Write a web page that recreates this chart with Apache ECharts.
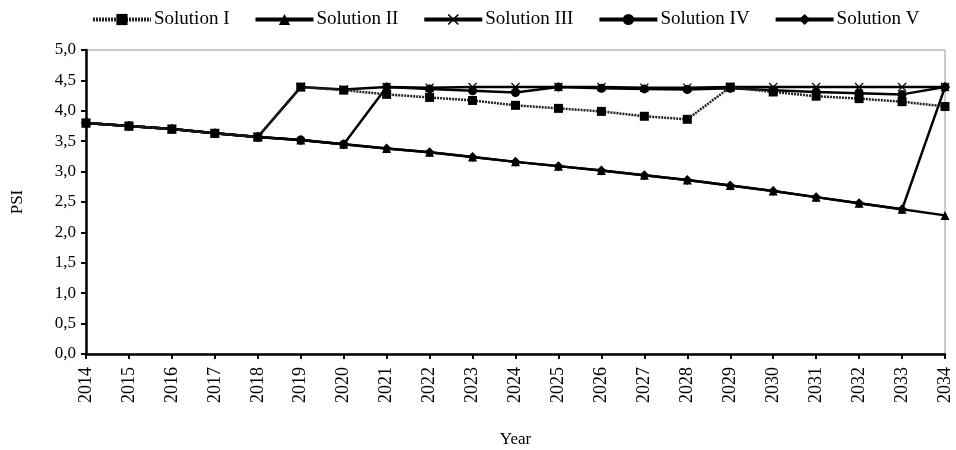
<!DOCTYPE html>
<html>
<head>
<meta charset="utf-8">
<script src="https://cdn.jsdelivr.net/npm/echarts@6/dist/echarts.min.js"></script>
<style>html,body{margin:0;padding:0;background:#fff}#c{width:956px;height:450px}</style>
</head>
<body>
<div id="c"></div>
<script>
var years = ['2014','2015','2016','2017','2018','2019','2020','2021','2022','2023','2024','2025','2026','2027','2028','2029','2030','2031','2032','2033','2034'];
var solutionI   = [3.80,3.75,3.70,3.63,3.57,4.39,4.34,4.27,4.22,4.17,4.09,4.04,3.99,3.91,3.86,4.39,4.31,4.24,4.20,4.15,4.07];
var solutionII  = [3.80,3.75,3.70,3.63,3.57,3.52,3.45,3.38,3.32,3.24,3.16,3.09,3.02,2.94,2.86,2.77,2.68,2.58,2.48,2.38,2.28];
var solutionIII = [3.80,3.75,3.70,3.63,3.57,4.39,4.35,4.39,4.38,4.39,4.39,4.39,4.39,4.38,4.38,4.39,4.39,4.39,4.39,4.39,4.39];
var solutionIV  = [3.80,3.75,3.70,3.63,3.57,3.52,3.45,4.39,4.36,4.33,4.30,4.39,4.37,4.36,4.35,4.37,4.34,4.31,4.29,4.27,4.39];
var solutionV   = [3.80,3.75,3.70,3.63,3.57,3.52,3.45,3.38,3.32,3.24,3.16,3.09,3.02,2.94,2.86,2.77,2.68,2.58,2.48,2.38,4.39];
var seriesNames = ['Solution I','Solution II','Solution III','Solution IV','Solution V'];
var yTickLabels = ['0,0','0,5','1,0','1,5','2,0','2,5','3,0','3,5','4,0','4,5','5,0'];

var FONT = '"Liberation Serif", "Times New Roman", serif';
var crossPath = 'path://M0,1L1,0L5,4L9,0L10,1L6,5L10,9L9,10L5,6L1,10L0,9L4,5Z';

function mk(name, data, symbol, size, lineType, color) {
  return {
    name: name, type: 'line', data: data,
    symbol: symbol, symbolSize: size, showSymbol: true,
    lineStyle: { color: color || '#000', width: 2.5, type: lineType || 'solid' },
    itemStyle: { color: '#000', borderColor: '#000', borderWidth: 0 },
    emphasis: { disabled: true },
    animation: false
  };
}

var chart = echarts.init(document.getElementById('c'), null, { renderer: 'canvas' });
chart.setOption({
  backgroundColor: '#fff',
  animation: false,
  textStyle: { fontFamily: FONT, color: '#000' },
  legend: {
    data: seriesNames,
    left: 86, top: 5,
    itemWidth: 58, itemHeight: 14, itemGap: 24,
    lineStyle: { width: 4 },
    textStyle: { fontFamily: FONT, fontSize: 19, color: '#000', padding: [0,0,0,-2] }
  },
  grid: {
    left: 86, right: 11, top: 50, bottom: 96,
    containLabel: false, outerBoundsMode: 'none',
    show: true, borderColor: '#999', borderWidth: 1, backgroundColor: 'transparent'
  },
  xAxis: {
    type: 'category', data: years, boundaryGap: false,
    name: 'Year', nameLocation: 'middle', nameGap: 77,
    nameTextStyle: { fontFamily: FONT, fontSize: 17, color: '#000' },
    axisLine: { lineStyle: { color: '#000', width: 2.5 } },
    axisTick: { show: true, alignWithLabel: true, length: 5, lineStyle: { color: '#000', width: 2 } },
    axisLabel: { rotate: 90, fontFamily: FONT, fontSize: 18, color: '#000', margin: 13, interval: 0 },
    splitLine: { show: false }
  },
  yAxis: {
    type: 'value', min: 0, max: 5, interval: 0.5,
    name: 'PSI', nameLocation: 'middle', nameGap: 60, nameRotate: 90,
    nameTextStyle: { fontFamily: FONT, fontSize: 17, color: '#000' },
    axisLine: { show: true, lineStyle: { color: '#000', width: 2.5 } },
    axisTick: { show: true, length: 5, lineStyle: { color: '#000', width: 2 } },
    axisLabel: {
      fontFamily: FONT, fontSize: 17, color: '#000', margin: 10,
      formatter: function (v) { return yTickLabels[Math.round(v / 0.5)]; }
    },
    splitLine: { show: false }
  },
  series: [
    mk('Solution II', solutionII, 'triangle', 9),
    mk('Solution V', solutionV, 'diamond', 10),
    mk('Solution IV', solutionIV, 'circle', 9),
    mk('Solution III', solutionIII, crossPath, 9),
    mk('Solution I', solutionI, 'rect', 9, [2, 1], '#222')
  ]
});
</script>
</body>
</html>
